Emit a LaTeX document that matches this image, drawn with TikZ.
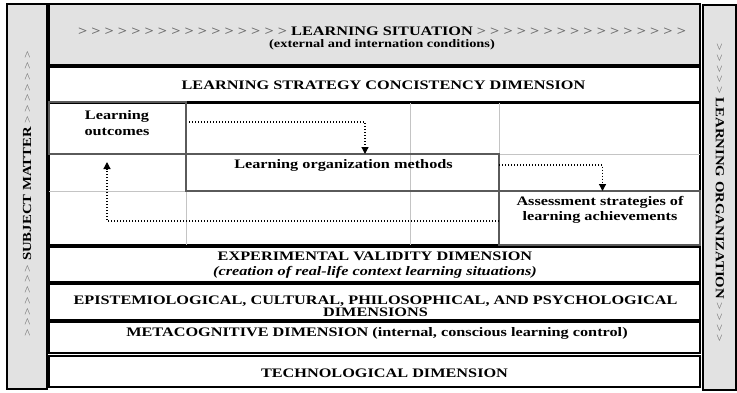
\documentclass[tikz,border=0pt]{standalone}
\usepackage{fontspec}
\setmainfont{Liberation Serif}[FakeStretch=1.25]
\newfontfamily\sidefont{Liberation Serif}[FakeStretch=1.2]
\usetikzlibrary{arrows.meta,positioning}

\definecolor{panelgray}{HTML}{E2E2E2}
\definecolor{gridgray}{HTML}{C4C4C4}
\definecolor{boxgray}{HTML}{5A5A5A}
\definecolor{chevgray}{HTML}{6A6A6A}
\newcommand{\chevs}[1]{{\color{chevgray}#1}}
\newcommand{\sidechevs}[1]{{\color{chevgray}\mdseries\fontsize{11}{13}\selectfont #1}}

\begin{document}
\begin{tikzpicture}[
                x=1pt,y=-1pt,
                every node/.style={inner sep=0pt,outer sep=0pt},
                band/.style={draw=black,line width=1.6pt,fill=white,anchor=north west,minimum width=651pt},
                sidebar/.style={draw=black,line width=1.6pt,fill=panelgray,anchor=north west},
                cell/.style={draw=boxgray,line width=1.2pt,anchor=north west},
                gridline/.style={draw=gridgray,line width=0.8pt},
                lbl/.style={font={\fontsize{13}{15}\selectfont\bfseries},align=center},
                sidelbl/.style={font={\sidefont\fontsize{12.3}{14}\selectfont\bfseries}},
                flow/.style={line width=1.2pt,dash pattern=on 1.2pt off 1.8pt,-{Triangle[length=7pt,width=7pt]}}
            ]
            \useasboundingbox (0,0) rectangle (737,392);

            % side panels
            \node[sidebar,minimum width=40pt,minimum height=385pt] (subjbar) at (7,4) {};
            \node[sidebar,minimum width=33pt,minimum height=385pt] (orgbar) at (703,5) {};
            \node[sidelbl,rotate=90] (subjtext) at (27,194)
                {\sidechevs{> > > > > > >} SUBJECT MATTER \sidechevs{> > > > > > >}};
            \node[sidelbl,rotate=-90] (orgtext) at (720,193)
                {\sidechevs{> > > > >} LEARNING ORGANIZATION \sidechevs{> > > >}};

            % bands
            \node[band,fill=panelgray,minimum height=61pt] (situation) at (49,4) {};
            \node[band,minimum height=35pt] (strategy) at (49,67) {};
            \node[band,minimum height=142pt] (gridarea) at (49,103) {};
            \node[band,minimum height=35pt] (experimental) at (49,247) {};
            \node[band,minimum height=36pt] (epistem) at (49,284) {};
            \node[band,minimum height=31pt] (metacog) at (49,322) {};
            \node[band,minimum height=31pt] (techno) at (49,356) {};

            % light grid
            \draw[gridline] (49,154) -- (700,154) (49,191) -- (700,191);
            \draw[gridline] (186,103) -- (186,245) (410,103) -- (410,245) (499,103) -- (499,245);

            % boxes
            \node[cell,minimum width=137pt,minimum height=52pt] (outcomes) at (49,102) {};
            \node[cell,minimum width=313pt,minimum height=37pt] (methods) at (186,154) {};
            \node[cell,minimum width=201pt,minimum height=54pt] (assess) at (499,191) {};

            % texts
            \node[lbl] (sittitle) at (382,31)
                {\chevs{> > > > > > > > > > > > > > > >} LEARNING SITUATION \chevs{> > > > > > > > > > > > > > > >}};
            \node[lbl,font={\fontsize{11.5}{13}\selectfont\bfseries}] (sitnote) at (382,45) {(external and internation conditions)};
            \node[lbl] (strattext) at (383.5,85) {LEARNING STRATEGY CONCISTENCY DIMENSION};
            \node[lbl,font={\fontsize{13}{16}\selectfont\bfseries}] (outtext) at (117,123) {Learning\\outcomes};
            \node[lbl] (methtext) at (343.5,165) {Learning organization methods};
            \node[lbl] (asstext) at (600,210) {Assessment strategies of\\learning achievements};
            \node[lbl] (exptext) at (375,265.5)
                {EXPERIMENTAL VALIDITY DIMENSION\\\textit{(creation of real-life context learning situations)}};
            \node[lbl,font={\fontsize{13}{11.5}\selectfont\bfseries}] (epitext) at (375.5,306.5)
                {EPISTEMIOLOGICAL, CULTURAL, PHILOSOPHICAL, AND PSYCHOLOGICAL\\DIMENSIONS};
            \node[lbl] (metatext) at (377,333) {METACOGNITIVE DIMENSION (internal, conscious learning control)};
            \node[lbl] (techtext) at (384.5,373) {TECHNOLOGICAL DIMENSION};

            % dotted links
            \coordinate (rise) at (107,162);
            \draw[flow] ([xshift=3pt,yshift=6pt]outcomes.east) -| ([xshift=22.5pt]methods.north);
            \draw[flow] ([yshift=7.5pt]methods.east) -| ([xshift=3pt]assess.north);
            \draw[flow] ([yshift=-3pt]assess.west) -| (rise);

        \end{tikzpicture}
\end{document}
